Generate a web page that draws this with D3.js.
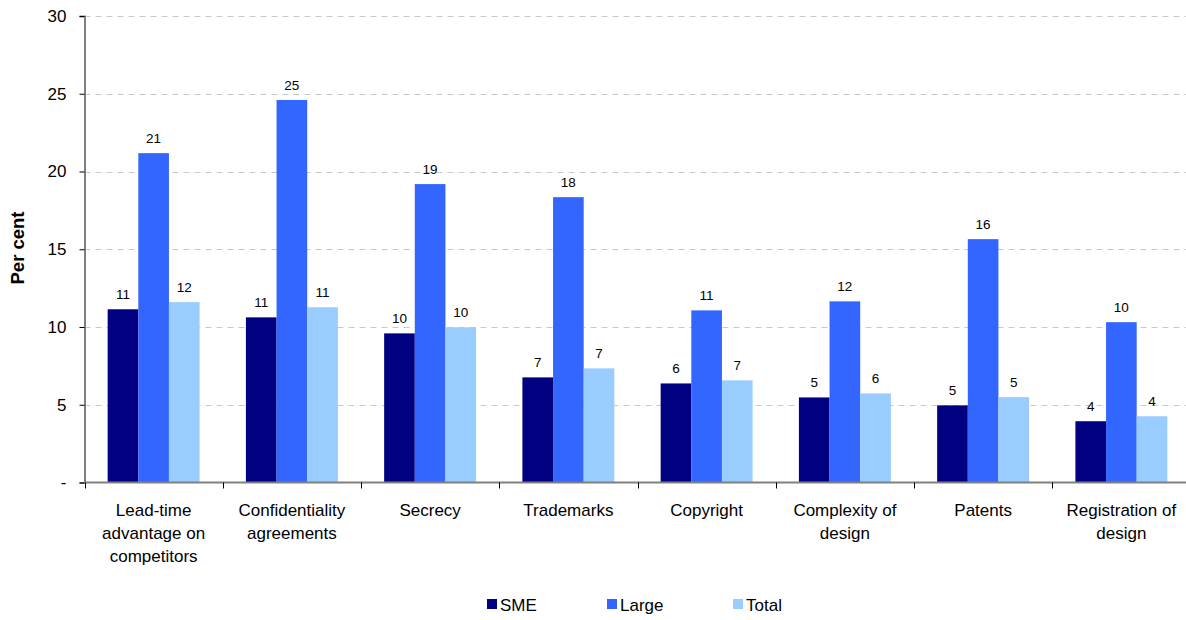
<!DOCTYPE html>
<html><head><meta charset="utf-8">
<script src="https://cdn.jsdelivr.net/npm/d3@7/dist/d3.min.js"></script>
<style>body{margin:0;background:#fff}svg{display:block;font-family:"Liberation Sans",Arial,sans-serif}</style>
</head><body><svg id="c" width="1186" height="620"></svg>
<script>
const categories = [["Lead-time","advantage on","competitors"],["Confidentiality","agreements"],["Secrecy"],["Trademarks"],["Copyright"],["Complexity of","design"],["Patents"],["Registration of","design"]];
const seriesNames = ["SME","Large","Total"];
const sme   = [11.14, 10.62, 9.59, 6.76, 6.37, 5.47, 4.96, 3.94];
const large = [21.18, 24.6, 19.19, 18.35, 11.07, 11.65, 15.65, 10.31];
const total = [11.6, 11.27, 9.98, 7.34, 6.57, 5.73, 5.49, 4.26];
const yTicks = [0,5,10,15,20,25,30];
const colors = ["#000080","#3366FF","#99CCFF"];

const svg = d3.select("#c");
const m = {left:84.5, right:1190.5, top:16, bottom:482.5};
const keys = categories.map((c,i)=>i);
const x = d3.scaleBand().domain(keys).range([m.left,m.right]).paddingInner(0).paddingOuter(0);
const y = d3.scaleLinear().domain([0,30]).range([m.bottom,m.top]);
const inner = 0.665;
const xs = d3.scaleBand().domain(seriesNames).range([0, x.bandwidth()*inner]);
const off = x.bandwidth()*(1-inner)/2;
const values = [sme, large, total];

// gridlines
svg.append("g").selectAll("line").data(yTicks.filter(t=>t>0)).join("line")
  .attr("x1",m.left).attr("x2",m.right).attr("y1",d=>Math.round(y(d))+0.5).attr("y2",d=>Math.round(y(d))+0.5)
  .attr("stroke","#c8c8c8").attr("stroke-dasharray","6,5").attr("stroke-width",1);

// bars
seriesNames.forEach((s,si)=>{
  svg.append("g").selectAll("rect").data(values[si]).join("rect")
    .attr("x",(d,i)=>x(i)+off+xs(s)).attr("width",xs.bandwidth())
    .attr("y",d=>y(d)).attr("height",d=>y(0)-y(d)).attr("fill",colors[si]);
  svg.append("g").selectAll("text").data(values[si]).join("text")
    .attr("x",(d,i)=>x(i)+off+xs(s)+xs.bandwidth()/2).attr("y",d=>y(d)-10)
    .attr("text-anchor","middle").attr("font-size",13.5).attr("fill","#000")
    .text(d=>Math.round(d));
});

// y axis
const ya = d3.axisLeft(y).tickValues(yTicks).tickSize(5).tickPadding(13).tickFormat(d=>d===0?"-":d);
const yg = svg.append("g").attr("transform",`translate(${m.left},0)`).call(ya);
yg.select(".domain").attr("stroke","#808080").attr("stroke-width",2);
yg.selectAll(".tick line").attr("stroke","#000");
yg.selectAll("text").attr("font-size",17).attr("font-family","Liberation Sans, Arial, sans-serif").attr("fill","#000");

// x axis
svg.append("line").attr("x1",m.left).attr("x2",m.right).attr("y1",m.bottom).attr("y2",m.bottom).attr("stroke","#808080").attr("stroke-width",2);
svg.append("g").selectAll("line").data(keys).join("line")
  .attr("x1",d=>Math.round(x(d))+0.5).attr("x2",d=>Math.round(x(d))+0.5).attr("y1",m.bottom).attr("y2",m.bottom+6).attr("stroke","#000");

const cl = svg.append("g").selectAll("text").data(keys).join("text")
  .attr("text-anchor","middle").attr("font-size",17).attr("fill","#000")
  .attr("transform",d=>`translate(${x(d)+x.bandwidth()/2},516)`);
cl.each(function(d){
  const t = d3.select(this);
  categories[d].forEach((line,li)=>t.append("tspan").attr("x",0).attr("y",li*23).text(line));
});

// y label
svg.append("text").attr("transform","translate(24,248) rotate(-90)").attr("text-anchor","middle")
  .attr("font-size",18.5).attr("font-weight","bold").text("Per cent");

// legend
const legX = [487,607,733];
const lg = svg.append("g").selectAll("g").data(seriesNames).join("g").attr("transform",(d,i)=>`translate(${legX[i]},599)`);
lg.append("rect").attr("width",10).attr("height",10).attr("fill",(d,i)=>colors[i]);
lg.append("text").attr("x",13).attr("y",11.5).attr("font-size",17).attr("fill","#000").text(d=>d);
</script></body></html>
